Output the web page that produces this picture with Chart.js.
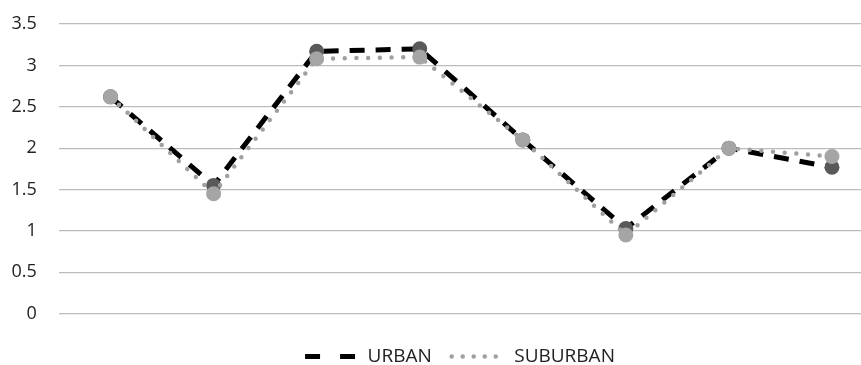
<!DOCTYPE html>
<html>
<head>
<meta charset="utf-8">
<script src="https://cdn.jsdelivr.net/npm/chart.js@4/dist/chart.umd.min.js"></script>
<style>
  html, body { margin: 0; padding: 0; background: #fff; overflow: hidden; width: 861px; height: 365px; }
  canvas { display: block; }
</style>
</head>
<body>
<canvas id="c" width="891" height="376" style="width:891px;height:376px"></canvas>
<script>
const categories = ['1', '2', '3', '4', '5', '6', '7', '8'];
const urbanValues = [2.62, 1.55, 3.17, 3.2, 2.1, 1.03, 2.0, 1.77];
const suburbanValues = [2.62, 1.45, 3.08, 3.1, 2.1, 0.95, 2.0, 1.9];
const seriesNames = ['URBAN', 'SUBURBAN'];
const yTickLabels = ['0', '0.5', '1', '1.5', '2', '2.5', '3', '3.5'];

const FONT = "'Open Sans', 'Noto Sans', sans-serif";

new Chart(document.getElementById('c'), {
  type: 'line',
  data: {
    labels: categories,
    datasets: [
      {
        label: seriesNames[0],
        data: urbanValues,
        order: 2,
        borderColor: '#000000',
        borderWidth: 5,
        borderDash: [15, 11],
        borderCapStyle: 'butt',
        tension: 0,
        pointRadius: 7.5,
        pointHoverRadius: 7.5,
        pointBackgroundColor: '#595959',
        pointBorderColor: '#595959',
        pointBorderWidth: 0,
        fill: false
      },
      {
        label: seriesNames[1],
        data: suburbanValues,
        order: 1,
        borderColor: '#a0a0a0',
        borderWidth: 4.5,
        borderDash: [0, 11.7],
        borderCapStyle: 'round',
        tension: 0,
        pointRadius: 7.5,
        pointHoverRadius: 7.5,
        pointBackgroundColor: '#a5a5a5',
        pointBorderColor: '#a5a5a5',
        pointBorderWidth: 0,
        fill: false
      }
    ]
  },
  options: {
    responsive: false,
    animation: false,
    devicePixelRatio: 1,
    layout: { padding: { left: 29, right: 0, top: 24, bottom: 0 } },
    scales: {
      x: {
        type: 'category',
        offset: true,
        grid: { display: false, drawTicks: false },
        border: { display: false },
        ticks: { display: false },
        afterFit: s => { s.height = 13.3; }
      },
      y: {
        min: 0,
        max: 3.5,
        ticks: {
          stepSize: 0.5,
          mirror: true,
          crossAlign: 'far',
          padding: -47.5,
          color: '#222222',
          font: { family: FONT, size: 18 },
          callback: (v, i) => yTickLabels[i]
        },
        grid: { color: '#bcbcbc', lineWidth: 1.2, drawTicks: false },
        border: { display: false },
        afterFit: s => { s.width = 30; }
      }
    },
    plugins: {
      tooltip: { enabled: false },
      legend: {
        position: 'bottom',
        labels: {
          usePointStyle: true,
          pointStyle: 'line',
          pointStyleWidth: 53,
          padding: 20,
          color: '#222222',
          font: { family: FONT, size: 19 },
          sort: (a, b) => a.datasetIndex - b.datasetIndex,
          generateLabels: chart => {
            const items = Chart.defaults.plugins.legend.labels.generateLabels(chart);
            items.forEach(it => {
              it.pointStyle = 'line';
              if (it.datasetIndex === 0) {
                it.strokeStyle = '#000000';
                it.lineWidth = 5;
                it.lineDash = [15, 20];
                it.lineCap = 'butt';
              } else {
                it.strokeStyle = '#a0a0a0';
                it.lineWidth = 4.5;
                it.lineDash = [0, 11];
                it.lineCap = 'round';
              }
            });
            return items;
          }
        }
      }
    }
  }
});
</script>
</body>
</html>
